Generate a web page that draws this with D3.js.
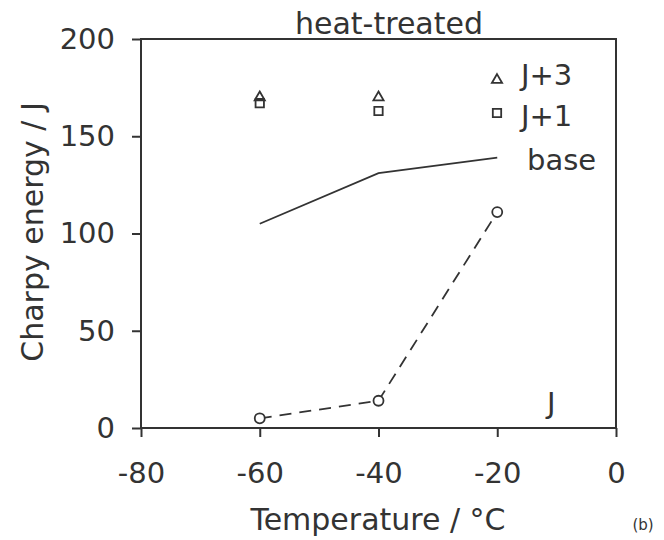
<!DOCTYPE html>
<html>
<head>
<meta charset="utf-8">
<script src="https://cdn.jsdelivr.net/npm/d3@7"></script>
<style>
  html, body { margin: 0; padding: 0; background: #fff; }
  svg { display: block; }
  text { font-family: "DejaVu Sans", Verdana, sans-serif; fill: #333; }
</style>
</head>
<body>
<svg id="chart" width="664" height="540"></svg>
<script>
// Charpy impact energy vs test temperature, heat-treated condition
const seriesJ3 = [{ t: -60, e: 170 }, { t: -40, e: 170 }];
const seriesJ1 = [{ t: -60, e: 167 }, { t: -40, e: 163 }];
const seriesBase = [{ t: -60, e: 105 }, { t: -40, e: 131 }, { t: -20, e: 139 }];
const seriesJ = [{ t: -60, e: 5 }, { t: -40, e: 14 }, { t: -20, e: 111 }];
const xTicks = [-80, -60, -40, -20, 0];
const yTicks = [0, 50, 100, 150, 200];

const ink = "#333";
const font = '"DejaVu Sans", Verdana, sans-serif';
const svg = d3.select("#chart");
const margin = { left: 141, right: 48, top: 39, bottom: 112 };
const W = 664, H = 540;

const x = d3.scaleLinear().domain([-80, 0]).range([margin.left, W - margin.right]);
const y = d3.scaleLinear().domain([0, 200]).range([H - margin.bottom, margin.top]);

// plot frame
svg.append("rect")
  .attr("x", x(-80)).attr("y", y(200))
  .attr("width", x(0) - x(-80)).attr("height", y(0) - y(200))
  .attr("fill", "none").attr("stroke", ink).attr("stroke-width", 2);

// axes
const fs = 29;
const xAxis = svg.append("g").attr("transform", `translate(0,${y(0)})`)
  .call(d3.axisBottom(x).tickValues(xTicks).tickSize(9).tickPadding(25));
const yAxis = svg.append("g").attr("transform", `translate(${x(-80)},0)`)
  .call(d3.axisLeft(y).tickValues(yTicks).tickSize(9).tickPadding(17));
[xAxis, yAxis].forEach(g => {
  g.select(".domain").remove();
  g.selectAll(".tick line").attr("stroke", ink).attr("stroke-width", 2);
  g.selectAll(".tick text").attr("font-size", fs).attr("fill", ink)
    .style("font-family", font);
});
xAxis.selectAll(".tick text").text(d => d < 0 ? "-" + Math.abs(d) : d);

// titles
svg.append("text").attr("x", 389).attr("y", 34).attr("text-anchor", "middle")
  .attr("font-size", 30).text("heat-treated");
svg.append("text").attr("x", 378).attr("y", 530).attr("text-anchor", "middle")
  .attr("font-size", 30).text("Temperature / °C");
svg.append("text").attr("transform", "translate(43,232) rotate(-90)").attr("text-anchor", "middle")
  .attr("font-size", 30).text("Charpy energy / J");
svg.append("text").attr("x", 643).attr("y", 530).attr("text-anchor", "middle")
  .attr("font-size", 15).text("(b)");

// base: solid line
svg.append("path").datum(seriesBase)
  .attr("d", d3.line().x(d => x(d.t)).y(d => y(d.e)))
  .attr("fill", "none").attr("stroke", ink).attr("stroke-width", 1.8);

// J: dashed line with open circles
svg.append("path").datum(seriesJ)
  .attr("d", d3.line().x(d => x(d.t)).y(d => y(d.e)))
  .attr("fill", "none").attr("stroke", ink).attr("stroke-width", 1.8)
  .attr("stroke-dasharray", "12,8");
svg.selectAll(".ptJ").data(seriesJ).join("circle")
  .attr("cx", d => x(d.t)).attr("cy", d => y(d.e)).attr("r", 5)
  .attr("fill", "#fff").attr("stroke", ink).attr("stroke-width", 1.8);

// J+1: open squares
const sq = d3.symbol().type(d3.symbolSquare).size(70);
svg.selectAll(".ptJ1").data(seriesJ1).join("path")
  .attr("d", sq).attr("transform", d => `translate(${x(d.t)},${y(d.e)})`)
  .attr("fill", "none").attr("stroke", ink).attr("stroke-width", 1.8);

// J+3: open triangles
const tri = d3.symbol().type(d3.symbolTriangle).size(45);
svg.selectAll(".ptJ3").data(seriesJ3).join("path")
  .attr("d", tri).attr("transform", d => `translate(${x(d.t)},${y(d.e)})`)
  .attr("fill", "none").attr("stroke", ink).attr("stroke-width", 1.8);

// legend
svg.append("path").attr("d", tri).attr("transform", "translate(497,80)")
  .attr("fill", "none").attr("stroke", ink).attr("stroke-width", 1.8);
svg.append("text").attr("x", 521).attr("y", 85).attr("font-size", fs).text("J+3");
svg.append("path").attr("d", sq).attr("transform", "translate(497,113)")
  .attr("fill", "none").attr("stroke", ink).attr("stroke-width", 1.8);
svg.append("text").attr("x", 521).attr("y", 126).attr("font-size", fs).text("J+1");
svg.append("text").attr("x", 527).attr("y", 170).attr("font-size", fs).text("base");
svg.append("text").attr("x", 547).attr("y", 413).attr("font-size", fs).text("J");
</script>
</body>
</html>
